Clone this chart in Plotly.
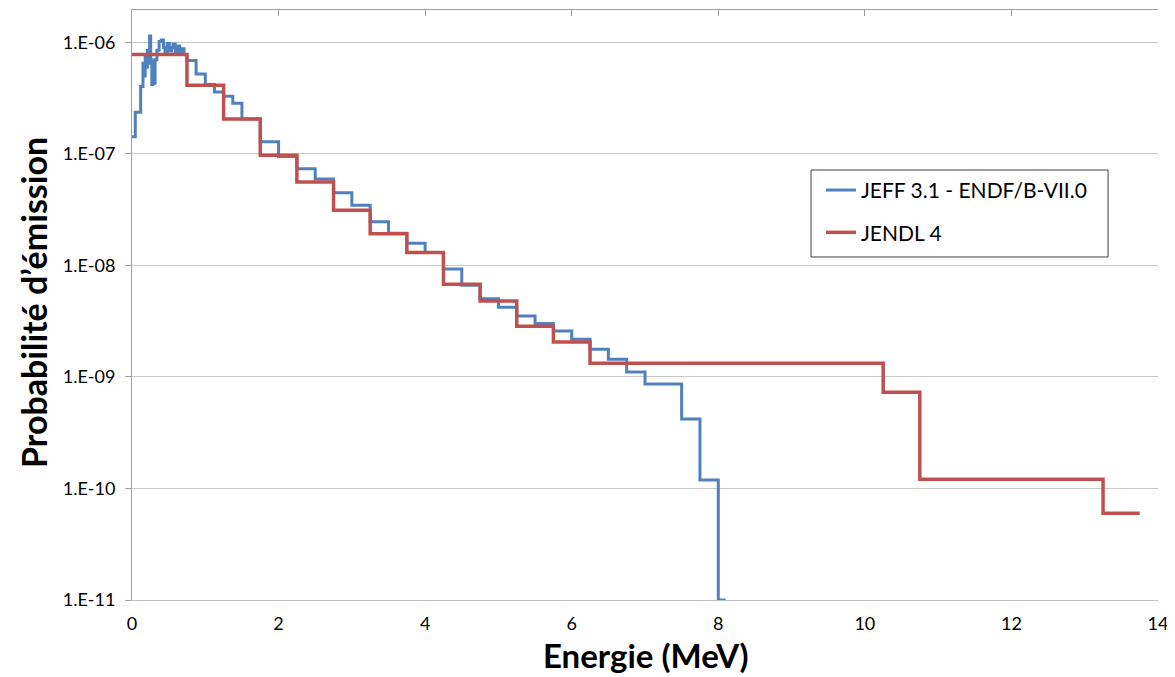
import plotly.graph_objects as go

# JEFF 3.1 - ENDF/B-VII.0 (step histogram: value holds from E[i] to E[i+1])
jeff_E = [0.00, 0.045, 0.118, 0.15, 0.17, 0.18, 0.195, 0.21, 0.225, 0.24, 0.255,
          0.27, 0.285, 0.30, 0.315, 0.34, 0.37, 0.40, 0.43, 0.45, 0.48, 0.51,
          0.54, 0.56, 0.59, 0.62, 0.65, 0.68, 0.71,
          0.75, 0.875, 1.0, 1.125, 1.25, 1.375, 1.5, 1.75, 2.0, 2.25, 2.5,
          2.75, 3.0, 3.25, 3.5, 3.75, 4.0, 4.25, 4.5, 4.75, 5.0, 5.25, 5.5,
          5.75, 6.0, 6.25, 6.5, 6.75, 7.0, 7.5, 7.75, 8.0, 8.1]
jeff_P = [1.43e-7, 2.37e-7, 4.03e-7, 6.5e-7, 5.0e-7, 7.5e-7, 6.0e-7, 8.5e-7, 6.5e-7, 1.14e-6, 7.0e-7,
          4.2e-7, 6.8e-7, 4.3e-7, 7.0e-7, 8.5e-7, 1.02e-6, 1.05e-6, 9.0e-7, 8.3e-7, 9.8e-7, 8.4e-7,
          9.0e-7, 9.7e-7, 8.2e-7, 9.3e-7, 8.1e-7, 8.8e-7, 7.8e-7,
          6.9e-7, 5.2e-7, 4.2e-7, 3.6e-7, 3.3e-7, 2.85e-7, 2.06e-7, 1.29e-7, 9.5e-8, 7.38e-8, 5.97e-8,
          4.50e-8, 3.47e-8, 2.47e-8, 1.95e-8, 1.58e-8, 1.31e-8, 9.3e-9, 6.64e-9, 5.04e-9, 4.22e-9, 3.52e-9, 3.01e-9,
          2.59e-9, 2.18e-9, 1.77e-9, 1.44e-9, 1.11e-9, 8.65e-10, 4.2e-10, 1.19e-10, 1.0e-11, 1.0e-11]

# JENDL 4
jendl_E = [0.0, 0.75, 1.25, 1.75, 2.25, 2.75, 3.25, 3.75, 4.25, 4.75, 5.25, 5.75,
           6.25, 10.25, 10.75, 13.25, 13.75]
jendl_P = [7.78e-7, 4.14e-7, 2.06e-7, 9.73e-8, 5.61e-8, 3.13e-8, 1.93e-8, 1.31e-8,
           6.78e-9, 4.80e-9, 2.85e-9, 2.06e-9, 1.33e-9, 7.3e-10, 1.21e-10, 6.0e-11, 6.0e-11]

x_ticks = [0, 2, 4, 6, 8, 10, 12, 14]
y_tickvals = [1e-11, 1e-10, 1e-9, 1e-8, 1e-7, 1e-6]
y_ticktext = ["1.E-11", "1.E-10", "1.E-09", "1.E-08", "1.E-07", "1.E-06"]

FONT = "Lato, Carlito, Calibri, sans-serif"

fig = go.Figure()
fig.add_trace(go.Scatter(x=jeff_E, y=jeff_P, mode="lines", line_shape="hv",
                         name="JEFF 3.1 - ENDF/B-VII.0", legendgroup="a",
                         line=dict(color="#4F81BD", width=3)))
fig.add_trace(go.Scatter(x=jendl_E, y=jendl_P, mode="lines", line_shape="hv",
                         name="JENDL 4", legendgroup="b",
                         line=dict(color="#C0504D", width=3.5)))
# invisible trace to carry the top axis
fig.add_trace(go.Scatter(x=[0, 14], y=[1e-6, 1e-6], xaxis="x2", mode="lines",
                         line=dict(width=0), showlegend=False, hoverinfo="skip"))

# the page body has an 8px default margin: figure is sized to fit the window
fig.update_layout(
    width=1167, height=669,
    margin=dict(l=124, r=17, t=2, b=77),
    paper_bgcolor="white", plot_bgcolor="white",
    font=dict(family=FONT, color="black"),
    showlegend=True,
    legend=dict(x=0.6715, y=0.729, xanchor="left", yanchor="top",
                borderwidth=0, bgcolor="rgba(0,0,0,0)",
                font=dict(size=21, family=FONT), traceorder="grouped",
                tracegroupgap=12),
    shapes=[dict(type="rect", xref="paper", yref="paper",
                 x0=0.6618, x1=0.9513, y0=0.5814, y1=0.7288,
                 line=dict(color="#404040", width=1), fillcolor="white", layer="below")],
    xaxis=dict(range=[0, 14], tickvals=x_ticks, ticks="", showgrid=False,
               showline=True, linecolor="#BFBFBF", linewidth=1, automargin=False,
               tickfont=dict(size=18), ticklabelstandoff=7, zeroline=False),
    xaxis2=dict(range=[0, 14], overlaying="x", side="top", tickvals=x_ticks,
                showticklabels=False, ticks="inside", ticklen=6, tickcolor="#A0A0A0",
                showline=True, linecolor="#A0A0A0", showgrid=False, zeroline=False,
                automargin=False),
    yaxis=dict(type="log", range=[-11, -5.709], tickvals=y_tickvals, ticktext=y_ticktext,
               showgrid=True, gridcolor="#C8C8C8", gridwidth=1, automargin=False,
               showline=True, linecolor="#A0A0A0", ticks="outside", ticklen=6,
               tickcolor="#A0A0A0", tickfont=dict(size=18), ticklabelstandoff=6,
               zeroline=False),
    annotations=[
        dict(text="<b>Energie (MeV)</b>", xref="paper", yref="paper",
             x=0.5, y=-0.093, xanchor="center", yanchor="middle",
             showarrow=False, font=dict(size=33, family=FONT)),
        dict(text="<b>Probabilité d’émission</b>", xref="paper", yref="paper",
             x=-0.0965, y=0.505, xanchor="center", yanchor="middle", textangle=-90,
             showarrow=False, font=dict(size=34, family=FONT)),
    ],
)

fig.write_html("out.html")
